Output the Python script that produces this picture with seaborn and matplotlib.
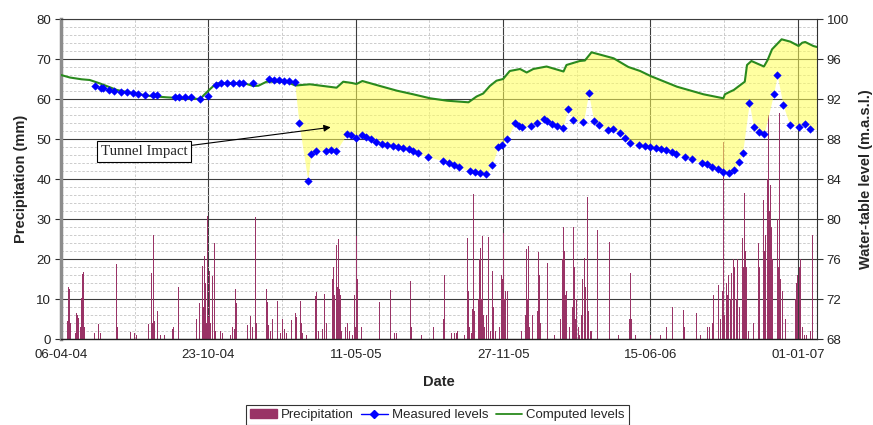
import numpy as np
import pandas as pd
import matplotlib
matplotlib.use("Agg")
import matplotlib.pyplot as plt
from matplotlib.lines import Line2D
from matplotlib.patches import Patch
from matplotlib.ticker import MultipleLocator
import seaborn as sns

# Day 0 of the record
start = pd.Timestamp("2004-04-06")
end_day = 1026

# Daily precipitation (mm): rain days counted from the start date
rain_day = [1, 9, 10, 11, 12, 13, 20, 21, 22, 24, 26, 28, 29, 31, 32, 45, 51, 53, 54,
            75, 76, 77, 91, 94, 100, 102, 119, 123, 124, 126, 127, 131, 133, 135, 140,
            151, 152, 153, 159, 160, 167, 175, 179, 182, 184, 186, 188, 190, 192, 193,
            195, 196, 197, 199, 200, 202, 203, 205, 206, 208, 209, 210, 213, 216, 219,
            224, 230, 233, 235, 237, 238, 247, 253, 255, 257, 260, 262, 264, 265, 266,
            270, 279, 280, 282, 284, 287, 289, 294, 296, 298, 301, 303, 306, 313, 318,
            320, 323, 325, 326, 328, 333, 345, 347, 349, 353, 355, 358, 360, 365, 368,
            369, 370, 371, 372, 374, 375, 376, 377, 378, 379, 381, 386, 388, 389, 392,
            396, 398, 400, 401, 402, 403, 408, 410, 432, 433, 447, 448, 453, 455, 474,
            475, 476, 489, 505, 506, 517, 519, 520, 521, 530, 534, 537, 538, 540, 548,
            551, 552, 553, 554, 557, 558, 559, 560, 561, 562, 566, 567, 568, 569, 570,
            571, 572, 573, 575, 577, 580, 581, 583, 585, 586, 587, 589, 590, 593, 595,
            597, 598, 599, 600, 601, 602, 603, 604, 606, 608, 612, 625, 630, 631, 632,
            633, 634, 635, 636, 638, 640, 642, 647, 648, 649, 651, 660, 661, 670, 678,
            681, 682, 683, 684, 685, 686, 688, 690, 694, 695, 696, 697, 698, 700, 702,
            704, 706, 708, 710, 711, 712, 714, 715, 716, 718, 719, 720, 722, 726, 728,
            730, 744, 745, 757, 772, 773, 774, 780, 800, 806, 814, 822, 830, 844, 845,
            846, 862, 866, 868, 877, 880, 884, 886, 892, 895, 897, 898, 899, 900, 901,
            903, 905, 906, 908, 909, 910, 912, 913, 914, 916, 917, 918, 921, 923, 925,
            926, 928, 929, 930, 933, 935, 940, 946, 947, 948, 953, 954, 955, 956, 958,
            959, 960, 961, 962, 963, 964, 966, 969, 972, 973, 974, 975, 976, 977, 979,
            980, 983, 988, 997, 998, 999, 1000, 1002, 1004, 1006, 1009, 1012, 1015,
            1017, 1020]
rain_mm = [1.0, 4.5, 12.9, 10.5, 12.5, 4.0, 1.5, 6.4, 6.0, 5.3, 3.0, 10.2, 16.2, 16.8, 3.0,
           1.5, 3.8, 1.5, 1.5, 18.8, 7.0, 3.0, 8.3, 1.8, 1.5, 1.0, 3.8, 16.4, 4.0, 26.0,
           4.5, 7.0, 2.0, 1.0, 1.0, 2.5, 32.0, 3.0, 12.9, 1.5, 1.0, 1.0, 3.0, 7.7, 5.0,
           13.1, 9.0, 12.8, 18.3, 8.0, 20.8, 14.0, 4.0, 30.8, 5.5, 17.0, 4.0, 38.0,
           15.8, 23.9, 3.0, 2.0, 1.0, 2.0, 1.5, 2.0, 1.0, 3.0, 2.5, 12.5, 9.0, 1.0, 3.5,
           6.1, 5.8, 3.0, 10.5, 30.4, 4.0, 4.0, 4.0, 12.5, 9.3, 3.5, 2.0, 5.0, 1.0, 9.6,
           9.3, 1.5, 5.0, 2.5, 1.5, 4.7, 6.6, 5.5, 4.0, 9.6, 4.0, 1.5, 1.0, 10.8, 11.8,
           2.0, 9.5, 2.5, 11.2, 4.0, 1.5, 15.0, 9.0, 18.0, 11.0, 13.0, 23.5, 13.0, 10.0,
           24.9, 12.5, 11.0, 2.0, 3.0, 9.0, 4.0, 2.0, 1.0, 11.0, 3.0, 25.8, 15.0, 5.0,
           3.0, 1.0, 9.3, 3.0, 12.3, 2.0, 1.5, 1.5, 14.6, 12.0, 3.0, 1.0, 9.1, 3.0, 2.0,
           5.0, 16.0, 3.0, 1.5, 1.5, 1.5, 2.0, 1.0, 1.0, 1.5, 25.2, 12.0, 3.0, 1.5, 7.5,
           12.0, 36.3, 7.0, 3.0, 8.0, 10.0, 20.0, 22.7, 14.0, 10.0, 25.8, 6.0, 3.0, 6.0,
           25.6, 4.0, 2.0, 26.6, 17.0, 8.0, 4.0, 2.0, 3.0, 3.0, 27.7, 16.0, 15.0, 3.0,
           26.4, 10.0, 12.0, 4.0, 12.0, 8.0, 1.0, 2.0, 6.0, 18.9, 22.5, 10.0, 23.3, 7.0,
           3.0, 5.0, 6.0, 9.0, 7.0, 21.8, 16.0, 4.0, 18.9, 3.0, 1.0, 5.0, 20.0, 28.1,
           22.0, 16.0, 11.0, 12.0, 6.0, 3.0, 8.0, 13.0, 28.1, 18.0, 5.0, 10.0, 3.0, 1.0,
           6.0, 15.0, 20.2, 34.6, 13.0, 8.0, 35.6, 7.0, 4.0, 2.0, 2.0, 1.5, 4.0, 27.3,
           3.0, 24.3, 9.0, 1.0, 5.0, 16.4, 5.0, 1.0, 1.0, 1.0, 1.0, 3.0, 8.0, 3.0, 7.3,
           3.0, 6.6, 5.0, 1.0, 3.0, 3.0, 4.0, 11.0, 13.5, 5.0, 10.0, 12.0, 49.3, 6.0, 8.0,
           14.0, 11.0, 16.0, 77.5, 10.0, 16.4, 58.8, 20.0, 18.0, 38.0, 10.0, 20.0, 8.0,
           13.0, 25.2, 18.0, 36.4, 22.0, 18.0, 2.0, 1.0, 4.0, 14.0, 24.0, 18.0, 34.8,
           30.0, 22.0, 26.0, 20.0, 40.0, 56.0, 38.0, 32.0, 38.5, 28.0, 20.0, 15.0, 30.0,
           40.2, 18.0, 56.6, 15.0, 10.0, 12.0, 6.0, 5.0, 1.0, 10.0, 14.0, 22.3, 16.0,
           18.0, 20.0, 3.0, 1.0, 1.0, 2.0, 2.0, 26.0]

# Measured water-table level (m a.s.l.)
measured_day = [46, 54, 57, 65, 72, 82, 90, 98, 105, 114, 125, 130, 155, 160, 168, 176,
                189, 199, 211, 217, 225, 233, 241, 247, 260, 282, 289, 296, 303, 310, 317,
                323, 335, 339, 346, 360, 366, 373, 388, 394, 401, 408, 414, 421, 428, 436,
                443, 450, 458, 464, 472, 478, 485, 498, 518, 526, 533, 540, 555, 562, 568,
                577, 585, 593, 598, 605, 616, 621, 626, 638, 646, 656, 660, 666, 673, 681,
                688, 695, 709, 716, 723, 730, 743, 749, 758, 765, 772, 784, 792, 800, 807,
                814, 821, 829, 835, 847, 857, 870, 877, 884, 891, 899, 906, 914, 920, 925,
                934, 940, 947, 954, 967, 972, 980, 989, 1002, 1010, 1017]
measured_level = [93.30, 93.13, 93.10, 92.90, 92.80, 92.73, 92.70, 92.57, 92.50, 92.43,
                  92.43, 92.43, 92.20, 92.20, 92.20, 92.17, 91.97, 92.30, 93.43, 93.63,
                  93.63, 93.63, 93.63, 93.63, 93.63, 93.97, 93.93, 93.87, 93.80, 93.77,
                  93.67, 89.57, 83.83, 86.50, 86.83, 86.83, 86.90, 86.77, 88.50, 88.40,
                  88.10, 88.40, 88.23, 87.97, 87.67, 87.53, 87.43, 87.33, 87.23, 87.13,
                  86.97, 86.80, 86.57, 86.23, 85.83, 85.57, 85.40, 85.17, 84.80, 84.73,
                  84.57, 84.47, 85.40, 87.17, 87.40, 88.00, 89.57, 89.33, 89.17, 89.33,
                  89.57, 89.97, 89.80, 89.50, 89.33, 89.07, 91.00, 89.90, 89.67, 92.57,
                  89.83, 89.40, 88.87, 88.97, 88.63, 88.13, 87.63, 87.40, 87.30, 87.23,
                  87.13, 87.00, 86.90, 86.73, 86.47, 86.23, 85.97, 85.57, 85.47, 85.23,
                  84.97, 84.73, 84.57, 84.90, 85.67, 86.63, 91.63, 89.17, 88.67, 88.47,
                  92.47, 94.37, 91.37, 89.40, 89.20, 89.47, 88.97]

# Computed water-table level (m a.s.l.)
computed_day = [0, 12, 28, 39, 53, 76, 98, 121, 143, 166, 189, 194, 202, 211, 234, 252,
                261, 268, 279, 306, 318, 338, 356, 374, 383, 395, 401, 409, 433, 456, 478,
                501, 524, 553, 564, 573, 582, 591, 600, 609, 623, 632, 641, 659, 682, 686,
                704, 711, 720, 750, 770, 786, 800, 836, 872, 899, 901, 908, 913, 922, 928,
                931, 937, 954, 959, 965, 978, 990, 1001, 1006, 1010, 1021, 1026]
computed_level = [94.40, 94.15, 93.97, 93.90, 93.55, 92.90, 92.57, 92.30, 92.17, 92.07,
                  92.00, 92.40, 92.97, 93.57, 93.57, 93.50, 93.30, 93.33, 93.73, 93.73,
                  93.35, 93.47, 93.30, 93.13, 93.73, 93.60, 93.50, 93.80, 93.30, 92.83,
                  92.47, 92.07, 91.83, 91.67, 92.25, 92.55, 93.30, 93.83, 94.00, 94.80,
                  95.00, 94.65, 95.00, 95.25, 94.75, 95.40, 95.80, 95.85, 96.67, 96.07,
                  95.20, 94.80, 94.30, 93.23, 92.47, 92.07, 92.47, 92.73, 92.90, 93.40,
                  93.73, 95.40, 95.80, 95.25, 95.90, 96.97, 97.97, 97.73, 97.30, 97.63,
                  97.70, 97.30, 97.20]

# First day of the shaded departure between computed and measured levels
impact_day = 318

sns.set_theme(style="white")
plt.rcParams["font.family"] = ["Liberation Sans", "DejaVu Sans"]

fig = plt.figure(figsize=(8.73, 4.25), dpi=100)
ax = fig.add_axes([61 / 873, 1 - 339 / 425, (817 - 61) / 873, 320 / 425])
ax2 = ax.twinx()

maroon = "#993366"
blue = "#0000FF"
green = "#2A8A1E"

# Precipitation bars on the left axis
ax.bar(rain_day, rain_mm, width=1.0, color=maroon, linewidth=0, align="center", zorder=2)

# Shaded gap between computed and measured levels
grid = np.arange(impact_day, end_day + 1)
upper = np.interp(grid, computed_day, computed_level)
lower = np.interp(grid, measured_day, measured_level)
ax2.fill_between(grid, lower, upper, color="#FFFF55", alpha=0.55, linewidth=0, zorder=1)

sns.lineplot(x=computed_day, y=computed_level, ax=ax2, color=green, linewidth=1.5,
             zorder=3, legend=False)
sns.scatterplot(x=measured_day, y=measured_level, ax=ax2, marker="D", s=15,
                color=blue, edgecolor=blue, linewidth=0.3, zorder=4, legend=False)

# Axes limits and ticks
ax.set_xlim(0, end_day)
ax.set_ylim(0, 80)
ax2.set_ylim(68, 100)

major_days = list(range(0, 1001, 200))
ax.set_xticks(major_days)
ax.set_xticklabels([(start + pd.Timedelta(days=d)).strftime("%d-%m-%y") for d in major_days])
ax.xaxis.set_minor_locator(MultipleLocator(100))
ax.yaxis.set_major_locator(MultipleLocator(10))
ax.yaxis.set_minor_locator(MultipleLocator(2))
ax2.set_yticks(range(68, 101, 4))

ax.grid(which="major", color="#3c3c3c", linewidth=0.8, linestyle="-")
ax.grid(which="minor", color="#c4c4c4", linewidth=0.6, linestyle=(0, (3, 2)))
ax.set_axisbelow(True)
ax2.grid(False)

ax.tick_params(which="major", direction="out", length=4, width=0.8, color="#303030",
               labelsize=9.5, labelcolor="#222222", pad=3)
ax.tick_params(which="minor", length=0)
ax2.tick_params(which="major", direction="out", length=4, width=0.8, color="#303030",
                labelsize=9.5, labelcolor="#222222", pad=3)

for side in ("left", "right", "top", "bottom"):
    ax2.spines[side].set_visible(side == "right")
ax2.spines["right"].set_color("#303030")
ax2.spines["right"].set_linewidth(0.8)
ax.spines["right"].set_visible(False)
ax.spines["top"].set_color("#3c3c3c")
ax.spines["top"].set_linewidth(0.8)
ax.spines["left"].set_color("#8c8c8c")
ax.spines["left"].set_linewidth(2.5)
ax.spines["bottom"].set_color("#202020")
ax.spines["bottom"].set_linewidth(1.0)

ax.set_ylabel("Precipitation (mm)", fontsize=10.5, fontweight="bold", labelpad=6)
ax2.set_ylabel("Water-table level (m.a.s.l.)", fontsize=10.5, fontweight="bold",
               labelpad=7)
ax.set_xlabel("Date", fontsize=10.5, fontweight="bold", labelpad=10)

# Callout for the tunnel effect
ax2.annotate("Tunnel Impact", xy=(366, 89.17), xytext=(113, 86.75),
             ha="center", va="center", fontsize=10.7,
             family=["Liberation Serif", "DejaVu Serif"],
             bbox=dict(boxstyle="square,pad=0.25", fc="white", ec="black", lw=0.8),
             arrowprops=dict(arrowstyle="-|>", color="black", lw=0.8,
                             mutation_scale=10, shrinkA=0, shrinkB=0),
             zorder=6)

handles = [
    Patch(facecolor=maroon, edgecolor=maroon),
    Line2D([0], [0], color=blue, marker="D", markersize=4, linewidth=1.0),
    Line2D([0], [0], color=green, linewidth=1.3),
]
labels = ["Precipitation", "Measured levels", "Computed levels"]
leg = fig.legend(handles, labels, loc="center", bbox_to_anchor=(437.5 / 873, 1 - 415 / 425),
                 ncol=3, fontsize=9.5, frameon=True, fancybox=False, edgecolor="black",
                 handlelength=2.0, handleheight=0.7, handletextpad=0.3,
                 columnspacing=0.6, borderpad=0.3, borderaxespad=0)
leg.get_frame().set_linewidth(0.8)

fig.savefig("out.png", dpi=100)
